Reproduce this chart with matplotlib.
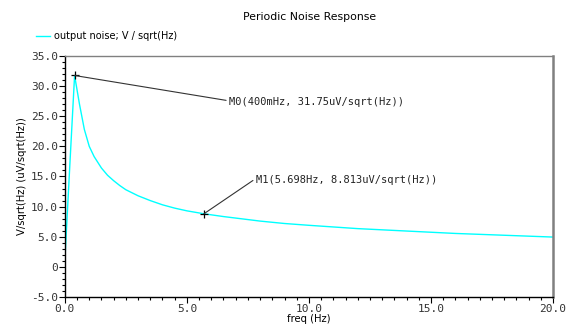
import matplotlib
matplotlib.use("Agg")
import matplotlib.pyplot as plt
from matplotlib.ticker import MultipleLocator, FormatStrFormatter

# periodic noise response
freq_hz = [0.0, 0.01, 0.2, 0.4, 0.6, 0.8, 1.0, 1.2, 1.5, 1.75, 2.0, 2.25, 2.5, 2.75,
           3.0, 3.5, 4.0, 4.5, 5.0, 5.698, 6.5, 7.0, 8.0, 9.0, 10.0, 12.0, 14.0,
           16.0, 18.0, 20.0]
noise_uv = [0.0, 1.7, 16.5, 31.75, 27.0, 22.8, 20.0, 18.3, 16.4, 15.2, 14.3, 13.5,
            12.8, 12.3, 11.8, 11.0, 10.3, 9.75, 9.3, 8.813, 8.35, 8.1, 7.6, 7.2,
            6.9, 6.35, 5.95, 5.55, 5.25, 4.95]

markers = [
    ("M0(400mHz, 31.75uV/sqrt(Hz))", 0.4, 31.75, 6.72, 27.3),
    ("M1(5.698Hz, 8.813uV/sqrt(Hz))", 5.698, 8.813, 7.82, 14.4),
]

mono = "DejaVu Sans Mono"

fig = plt.figure(figsize=(5.84, 3.25), dpi=100)
ax = fig.add_axes([0.111, 0.086, 0.836, 0.742])

line, = ax.plot(freq_hz, noise_uv, color="#00ffff", lw=1.0,
                label="output noise; V / sqrt(Hz)")

for text, mx, my, tx, ty in markers:
    ax.plot(mx, my, marker="+", color="black", ms=6, mew=0.9)
    ax.annotate(text, xy=(mx, my), xytext=(tx, ty),
                ha="left", va="center", fontsize=7.5, family=mono,
                color="#222222",
                arrowprops=dict(arrowstyle="-", color="#333333", lw=0.8,
                                shrinkA=0, shrinkB=0, relpos=(0.0, 0.65)))

ax.set_xlim(0, 20)
ax.set_ylim(-5, 35)
ax.xaxis.set_major_locator(MultipleLocator(5))
ax.xaxis.set_minor_locator(MultipleLocator(0.5))
ax.yaxis.set_major_locator(MultipleLocator(5))
ax.yaxis.set_minor_locator(MultipleLocator(1))
ax.xaxis.set_major_formatter(FormatStrFormatter("%.1f"))
ax.yaxis.set_major_formatter(
    plt.FuncFormatter(lambda v, p: "0" if abs(v) < 1e-9 else "%.1f" % v))
ax.tick_params(which="major", direction="out", length=4, width=0.8,
               labelsize=8, colors="black", labelcolor="#333333")
ax.tick_params(which="minor", direction="out", length=2, width=0.8)
ax.tick_params(axis="x", pad=1)
ax.tick_params(axis="y", pad=1)
for lab in ax.get_xticklabels() + ax.get_yticklabels():
    lab.set_family(mono)

for side in ("left", "bottom"):
    ax.spines[side].set_color("black")
    ax.spines[side].set_linewidth(1.0)
for side in ("right", "top"):
    ax.spines[side].set_color("#808080")
ax.spines["right"].set_linewidth(1.8)
ax.spines["top"].set_linewidth(1.0)

ax.set_xlabel("freq (Hz)", fontsize=7.2, labelpad=0)
ax.set_ylabel("V/sqrt(Hz) (uV/sqrt(Hz))", fontsize=7.2, labelpad=3)

fig.text(0.53, 0.948, "Periodic Noise Response", ha="center", va="center",
         fontsize=7.8)
leg = fig.legend(handles=[line], loc="center left",
                 bbox_to_anchor=(0.055, 0.888), frameon=False, fontsize=7.0,
                 handlelength=1.4, handletextpad=0.5, borderaxespad=0)

fig.savefig("out.png", dpi=100)
